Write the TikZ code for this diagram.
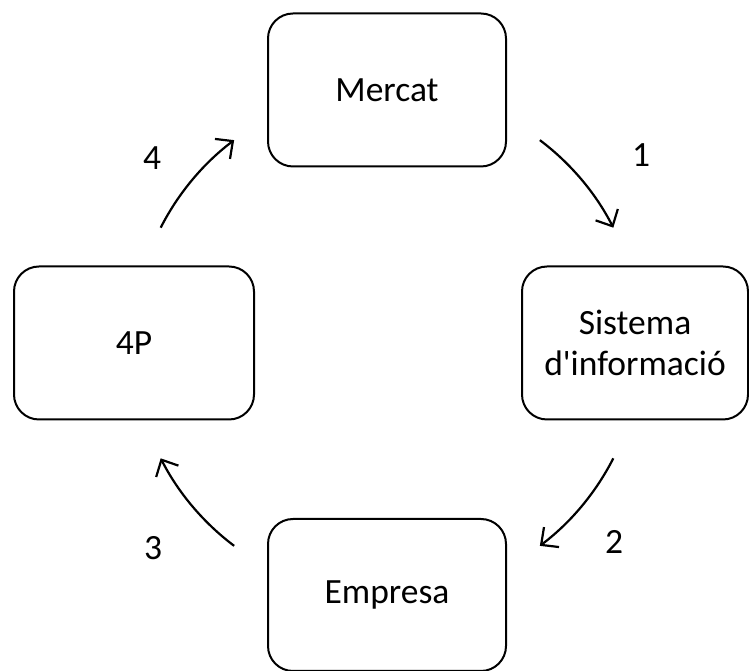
\documentclass[tikz,border=0pt]{standalone}
\usepackage{fontspec}
\setmainfont{Carlito}
\usetikzlibrary{arrows.meta,calc}
\begin{document}
\begin{tikzpicture}[x=1pt,y=1pt,
  box/.style={draw=black, line width=2pt, rounded corners=25pt, minimum height=153pt, align=center, inner sep=0pt, font=\fontsize{35.5}{41}\selectfont},
  lab/.style={inner sep=0pt, font=\fontsize{35.5}{41}\selectfont},
  arr/.style={line width=2.2pt, -{Straight Barb[length=13pt,width=25pt,line width=2.2pt]}}]
\useasboundingbox (0,0) rectangle (749,671);
\node[box, minimum width=238pt] (mercat) at (387,581) {Mercat};
\node[box, minimum width=226pt] (sistema) at (635,328) {Sistema\\d\textquotesingle informació};
\node[box, minimum width=238pt, minimum height=152pt] (empresa) at (387,76) {Empresa};
\node[box, minimum width=240pt] (p4) at (134,328) {4P};
\coordinate (ctr) at (387,328);
\coordinate (a1s) at ($(ctr)+(53:254)$);
\coordinate (a2s) at ($(ctr)+(-27:254)$);
\coordinate (a3s) at ($(ctr)+(-127:254)$);
\coordinate (a4s) at ($(ctr)+(153:254)$);
\draw[arr] (a1s) arc[start angle=53, end angle=27, radius=254];
\draw[arr] (a2s) arc[start angle=-27, end angle=-53, radius=254];
\draw[arr] (a3s) arc[start angle=-127, end angle=-153, radius=254];
\draw[arr] (a4s) arc[start angle=153, end angle=127, radius=254];
\node[lab] (l1) at (641,516) {1};
\node[lab] (l2) at (614,129) {2};
\node[lab] (l3) at (153,123) {3};
\node[lab] (l4) at (152,513) {4};
\end{tikzpicture}
\end{document}
